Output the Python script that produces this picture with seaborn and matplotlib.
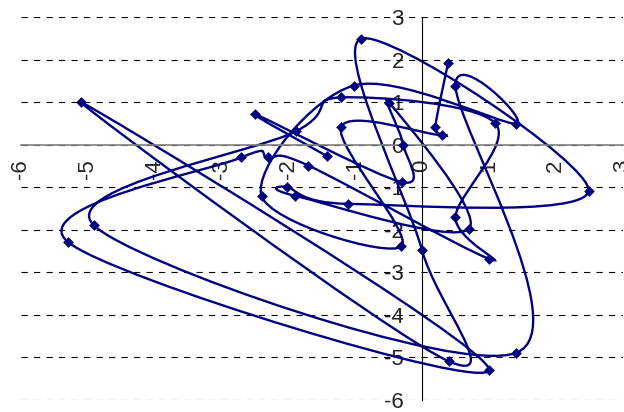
import matplotlib
matplotlib.use("Agg")
import matplotlib.pyplot as plt
from matplotlib.path import Path
from matplotlib.patches import PathPatch
import numpy as np
import pandas as pd
import seaborn as sns

# points in series order
x_vals = [0.39, 0.20, 0.30, -1.21, -0.31, -2.40, -1.02, 1.40, 0.50, 1.41,
          -4.91, -1.89, -1.21, 1.09, 0.50, 1.00, -1.70, -2.30, -2.70, -5.30,
          1.00, -5.10, 0.40, 0.00, -0.91, 2.49, -1.10, -2.02, -1.90, 0.70,
          -0.49, -0.28, -0.30, -2.50, -1.42]
y_vals = [1.92, 0.42, 0.22, 0.41, -2.39, -1.20, 1.39, 0.49, 1.39, -4.89,
          -1.89, 0.31, 1.11, 0.51, -1.70, -2.68, -0.49, -0.30, -0.30, -2.28,
          -5.29, 1.00, -5.09, -2.48, 2.49, -1.08, -1.39, -0.99, -1.20, -1.98,
          0.99, 0.00, -0.88, 0.72, -0.27]
tick_vals = list(range(-6, 4))
tick_labels = [str(t) for t in tick_vals]

NAVY = "#000080"

sns.set_style("white")
plt.rcParams["font.family"] = ["Liberation Sans", "DejaVu Sans"]
plt.rcParams["axes.unicode_minus"] = False
plt.rcParams["lines.scale_dashes"] = False

df = pd.DataFrame({"x": x_vals, "y": y_vals})

fig = plt.figure(figsize=(6.24, 4.12), dpi=100)
ax = fig.add_axes([20.7 / 624, 1 - 400 / 412, 602 / 624, 383 / 412])


def smooth_path(px, py):
    # excel-like smoothed line: cubic bezier through each point
    p = np.column_stack([px, py])
    n = len(p)
    verts = [p[0]]
    codes = [Path.MOVETO]
    for i in range(n - 1):
        p0 = p[i - 1] if i > 0 else p[i]
        p3 = p[i + 2] if i + 2 < n else p[i + 1]
        c1 = p[i] + (p[i + 1] - p0) / 6.0
        c2 = p[i + 1] - (p3 - p[i]) / 6.0
        verts += [c1, c2, p[i + 1]]
        codes += [Path.CURVE4] * 3
    return Path(verts, codes)


ax.add_patch(PathPatch(smooth_path(df["x"], df["y"]), fill=False,
                       edgecolor=NAVY, linewidth=1.7, zorder=2))
sns.scatterplot(data=df, x="x", y="y", marker="D", s=30, color=NAVY,
                linewidth=0, ax=ax, zorder=3)

for y in tick_vals:
    ax.axhline(y, color="black", linewidth=0.8, linestyle=(0, (4.5, 4.5)),
               zorder=1)

# axes cross at the origin (set before tick styling: set_position resets ticks)
for side in ["top", "right"]:
    ax.spines[side].set_visible(False)
ax.spines["left"].set_position(("data", 0))
ax.spines["bottom"].set_position(("data", 0))
ax.spines["left"].set_color("black")
ax.spines["bottom"].set_color("#808080")
ax.spines["left"].set_linewidth(0.8)
ax.spines["bottom"].set_linewidth(1.2)

ax.set_xlim(-6, 3)
ax.set_ylim(-6, 3)
ax.set_xticks(tick_vals)
ax.set_xticklabels(tick_labels)
ax.set_yticks(tick_vals)
ax.set_yticklabels(tick_labels)
ax.set_xlabel("")
ax.set_ylabel("")
ax.tick_params(axis="x", direction="out", length=3.6, width=1, color="#808080",
               pad=7, labelsize=16, labelrotation=90)
ax.tick_params(axis="y", direction="out", length=5, width=0.8, color="black",
               pad=8, labelsize=16)

fig.savefig("out.png", dpi=100)
